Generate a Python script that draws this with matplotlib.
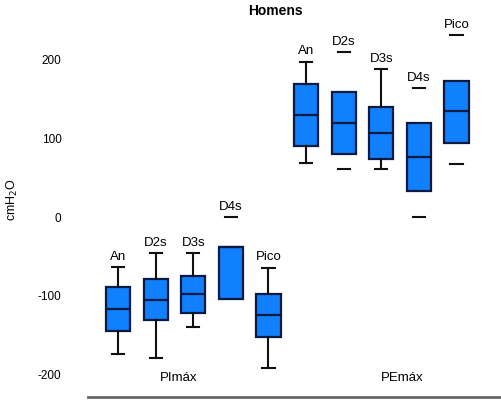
import matplotlib
matplotlib.use("Agg")
import matplotlib.pyplot as plt

plt.rcParams['font.family'] = ['Liberation Sans', 'DejaVu Sans']
plt.rcParams['axes.unicode_minus'] = False

# (cmH2O)
labels = ["An", "D2s", "D3s", "D4s", "Pico", "An", "D2s", "D3s", "D4s", "Pico"]
groups = ["PImáx", "PEmáx"]
whis_hi = [-63, -46, -46, 0, -64, 197, 209, 187, 163, 231]
q3 = [-89, -78, -75, -38, -98, 169, 158, 139, 119, 173]
med = [-116, -105, -97, -38, -124, 129, 119, 107, 76, 134]
q1 = [-144, -130, -122, -104, -152, 90, 80, 74, 33, 94]
whis_lo = [-173, -178, -139, -104, -191, 68, 61, 61, 0, 67]
# whisker line drawn or only the cap
show_whisker = [True, True, True, False, True, True, False, True, False, False]

stats = []
for i in range(len(labels)):
    stats.append(dict(whislo=whis_lo[i], q1=q1[i], med=med[i], q3=q3[i],
                      whishi=whis_hi[i], fliers=[]))

fig = plt.figure(figsize=(5.02, 4.0), dpi=100)
ax = fig.add_axes([88 / 502, 3 / 400, 414 / 502, 397 / 400])

pos = list(range(1, len(labels) + 1))
bp = ax.bxp(stats, positions=pos, widths=0.64, patch_artist=True,
            boxprops=dict(facecolor="#1080ff", edgecolor="#0a1a40", linewidth=1.6),
            medianprops=dict(color="#0a1a40", linewidth=1.6),
            whiskerprops=dict(color="#111111", linewidth=1.5),
            capprops=dict(color="#111111", linewidth=1.5),
            capwidths=0.32)

for i, ok in enumerate(show_whisker):
    if not ok:
        bp['whiskers'][2 * i].set_visible(False)
        bp['whiskers'][2 * i + 1].set_visible(False)
# D4s of PImáx has no lower cap
bp['caps'][2 * 3].set_visible(False)

for i, lab in enumerate(labels):
    ax.annotate(lab, (pos[i], whis_hi[i]), xytext=(0, 3), textcoords="offset points",
                ha="center", va="bottom", fontsize=9.5)

ax.text(2.6, -204, groups[0], ha="center", va="center", fontsize=9.5)
ax.text(8.55, -204, groups[1], ha="center", va="center", fontsize=9.5)

ax.set_xlim(0.2, 11.21)
ax.set_ylim(-228, 275)
ax.set_yticks([-200, -100, 0, 100, 200])
ax.set_xticks([])
ax.tick_params(axis="y", length=0, pad=19, labelsize=8.5)
for s in ["top", "right", "left"]:
    ax.spines[s].set_visible(False)
ax.spines["bottom"].set_color("#666666")
ax.spines["bottom"].set_linewidth(2)

fig.text(12 / 502, 1 - 200 / 400, "cmH$_2$O", rotation=90, ha="center", va="center", fontsize=9)
fig.text(275 / 502, 1 - 11 / 400, "Homens", ha="center", va="center", fontsize=10, fontweight="bold")

fig.savefig("out.png", dpi=100)
